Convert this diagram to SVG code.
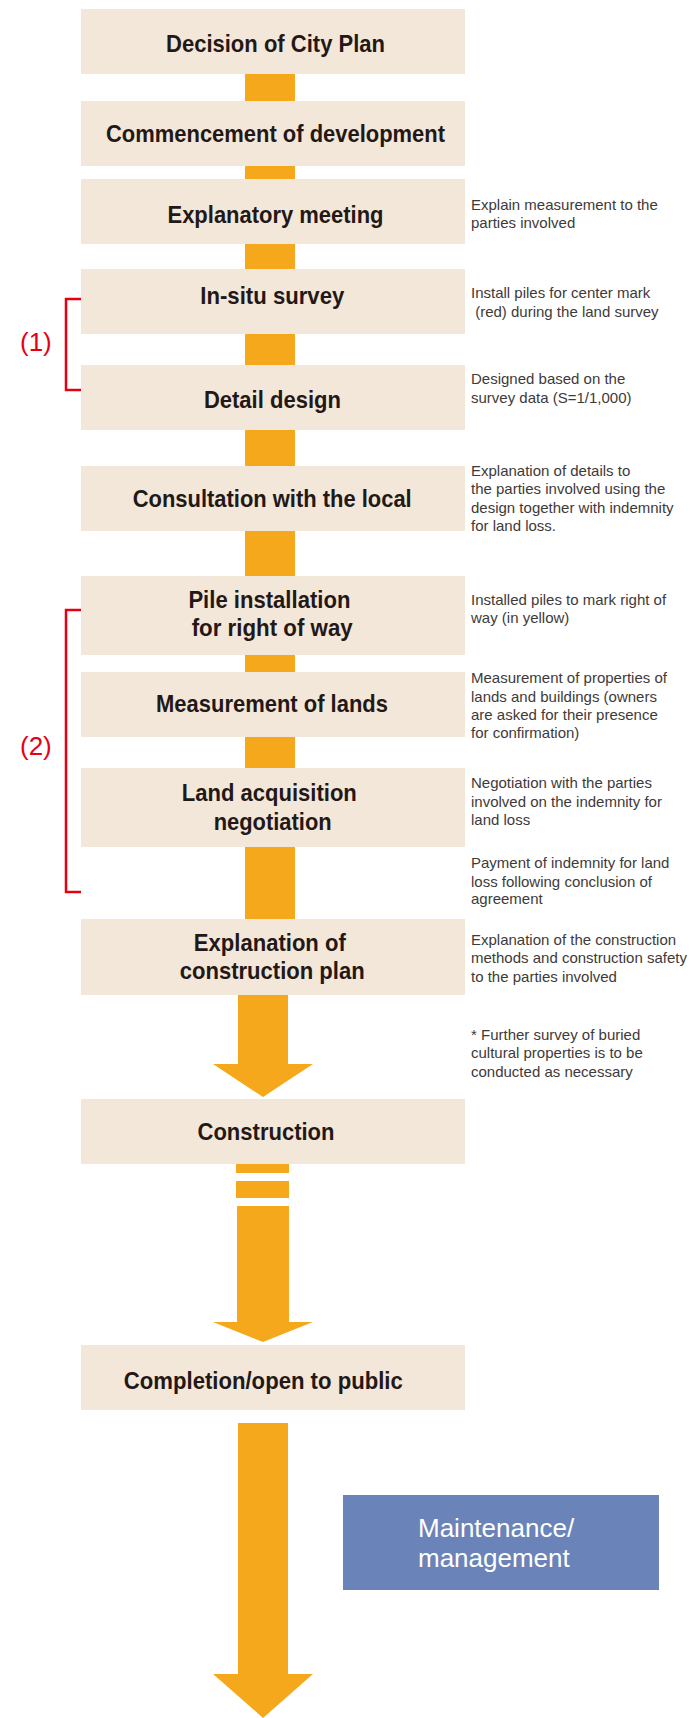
<svg xmlns="http://www.w3.org/2000/svg" width="693" height="1718" viewBox="0 0 693 1718">
<style>
.box{fill:#F3E7DA}
.lbl{font-family:"Liberation Sans",Arial,sans-serif;font-weight:bold;font-size:24px;fill:#231815;text-anchor:middle}
.note{font-family:"Liberation Sans",Arial,sans-serif;font-size:15px;fill:#3e3a39}
.org{fill:#F5A81C}
.brk{fill:none;stroke:#E60012;stroke-width:2.5}
.num{font-family:"Liberation Sans",Arial,sans-serif;font-size:26px;fill:#E60012}
.blue{fill:#6A83B9}
.wt{font-family:"Liberation Sans",Arial,sans-serif;font-size:26px;fill:#ffffff}
</style>
<rect width="693" height="1718" fill="#ffffff"/>
<g id="connectors">
<rect class="org" x="245" y="73" width="50" height="29"/>
<rect class="org" x="245" y="165" width="50" height="15"/>
<rect class="org" x="245" y="243" width="50" height="27"/>
<rect class="org" x="245" y="333" width="50" height="33"/>
<rect class="org" x="245" y="429" width="50" height="38"/>
<rect class="org" x="245" y="530" width="50" height="47"/>
<rect class="org" x="245" y="654" width="50" height="19"/>
<rect class="org" x="245" y="736" width="50" height="33"/>
<rect class="org" x="245" y="846" width="50" height="74"/>
<polygon class="org" points="238,994 288,994 288,1064 313,1064 263,1097 213,1064 238,1064"/>
<rect class="org" x="236" y="1163" width="53" height="10"/>
<rect class="org" x="236" y="1181" width="53" height="17"/>
<polygon class="org" points="237,1206 289,1206 289,1322 313,1322 263,1342 213,1322 237,1322"/>
<polygon class="org" points="238,1423 288,1423 288,1674 313,1674 263,1718 213,1674 238,1674"/>
</g>
<g id="n1"><rect class="box" x="81" y="9" width="384" height="65"/><text class="lbl" x="275.5" y="52" textLength="219" lengthAdjust="spacingAndGlyphs">Decision of City Plan</text></g>
<g id="n2"><rect class="box" x="81" y="101" width="384" height="65"/><text class="lbl" x="275.5" y="142" textLength="339" lengthAdjust="spacingAndGlyphs">Commencement of development</text></g>
<g id="n3"><rect class="box" x="81" y="179" width="384" height="65"/><text class="lbl" x="275.5" y="223" textLength="216" lengthAdjust="spacingAndGlyphs">Explanatory meeting</text></g>
<g id="n4"><rect class="box" x="81" y="269" width="384" height="65"/><text class="lbl" x="272.3" y="304" textLength="144" lengthAdjust="spacingAndGlyphs">In-situ survey</text></g>
<g id="n5"><rect class="box" x="81" y="365" width="384" height="65"/><text class="lbl" x="272.4" y="408" textLength="137" lengthAdjust="spacingAndGlyphs">Detail design</text></g>
<g id="n6"><rect class="box" x="81" y="466" width="384" height="65"/><text class="lbl" x="272.2" y="507" textLength="279" lengthAdjust="spacingAndGlyphs">Consultation with the local</text></g>
<g id="n7"><rect class="box" x="81" y="576" width="384" height="79"/><text class="lbl" x="269.4" y="608" textLength="162" lengthAdjust="spacingAndGlyphs">Pile installation</text><text class="lbl" x="272.2" y="636" textLength="161" lengthAdjust="spacingAndGlyphs">for right of way</text></g>
<g id="n8"><rect class="box" x="81" y="672" width="384" height="65"/><text class="lbl" x="272" y="712" textLength="232" lengthAdjust="spacingAndGlyphs">Measurement of lands</text></g>
<g id="n9"><rect class="box" x="81" y="768" width="384" height="79"/><text class="lbl" x="269.3" y="801" textLength="175" lengthAdjust="spacingAndGlyphs">Land acquisition</text><text class="lbl" x="272.7" y="830" textLength="118" lengthAdjust="spacingAndGlyphs">negotiation</text></g>
<g id="n10"><rect class="box" x="81" y="919" width="384" height="76"/><text class="lbl" x="269.8" y="951" textLength="152" lengthAdjust="spacingAndGlyphs">Explanation of</text><text class="lbl" x="272.2" y="979" textLength="185" lengthAdjust="spacingAndGlyphs">construction plan</text></g>
<g id="n11"><rect class="box" x="81" y="1099" width="384" height="65"/><text class="lbl" x="266" y="1140" textLength="137" lengthAdjust="spacingAndGlyphs">Construction</text></g>
<g id="n12"><rect class="box" x="81" y="1345" width="384" height="65"/><text class="lbl" x="263.3" y="1389" textLength="279" lengthAdjust="spacingAndGlyphs">Completion/open to public</text></g>
<g id="n13"><rect class="blue" x="343" y="1495" width="316" height="95"/><text class="wt" x="418" y="1537">Maintenance/</text><text class="wt" x="418" y="1567">management</text></g>
<g id="bracket1"><polyline class="brk" points="81,299 66,299 66,390 81,390"/><text class="num" x="20" y="351">(1)</text></g>
<g id="bracket2"><polyline class="brk" points="81,610 66,610 66,892 81,892"/><text class="num" x="20" y="755">(2)</text></g>
<g id="notes">
<text class="note" x="471" y="210">Explain measurement to the</text>
<text class="note" x="471" y="228.3">parties involved</text>
<text class="note" x="471" y="298.3">Install piles for center mark</text>
<text class="note" x="471" y="316.7" xml:space="preserve"> (red) during the land survey</text>
<text class="note" x="471" y="384">Designed based on the</text>
<text class="note" x="471" y="402.7">survey data (S=1/1,000)</text>
<text class="note" x="471" y="476">Explanation of details to</text>
<text class="note" x="471" y="494.3">the parties involved using the</text>
<text class="note" x="471" y="512.7">design together with indemnity</text>
<text class="note" x="471" y="531">for land loss.</text>
<text class="note" x="471" y="605">Installed piles to mark right of</text>
<text class="note" x="471" y="623.3">way (in yellow)</text>
<text class="note" x="471" y="683.4">Measurement of properties of</text>
<text class="note" x="471" y="701.7">lands and buildings (owners</text>
<text class="note" x="471" y="720">are asked for their presence</text>
<text class="note" x="471" y="738.3">for confirmation)</text>
<text class="note" x="471" y="788.3">Negotiation with the parties</text>
<text class="note" x="471" y="806.7">involved on the indemnity for</text>
<text class="note" x="471" y="825">land loss</text>
<text class="note" x="471" y="868.3">Payment of indemnity for land</text>
<text class="note" x="471" y="886.7">loss following conclusion of</text>
<text class="note" x="471" y="904">agreement</text>
<text class="note" x="471" y="945">Explanation of the construction</text>
<text class="note" x="471" y="963.3">methods and construction safety</text>
<text class="note" x="471" y="981.7">to the parties involved</text>
<text class="note" x="471" y="1040">* Further survey of buried</text>
<text class="note" x="471" y="1058.3">cultural properties is to be</text>
<text class="note" x="471" y="1076.7">conducted as necessary</text>
</g>
</svg>
